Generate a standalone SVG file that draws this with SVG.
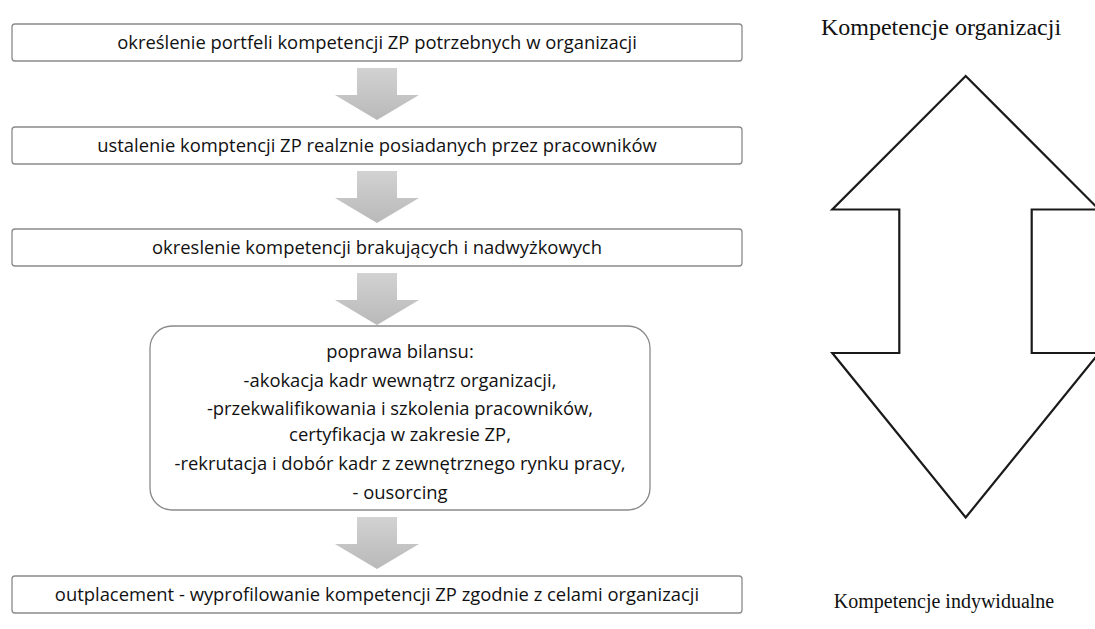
<svg xmlns="http://www.w3.org/2000/svg" width="1095" height="629" viewBox="0 0 1095 629">
  <defs>
    <linearGradient id="arrowFill" x1="0" y1="0" x2="0" y2="1">
      <stop offset="0" stop-color="#d2d2d2"/>
      <stop offset="1" stop-color="#b9b9b9"/>
    </linearGradient>
    <!-- block arrow pointing down, origin at top centre -->
    <path id="downArrow" d="M-20,0 H20 V27 H42 L0,52 L-42,27 H-20 Z"/>
  </defs>
  <style>
    .box { fill: #ffffff; stroke: #8a8a8a; stroke-width: 1.3; }
    .lbl { font-family: "Open Sans", "Liberation Sans", sans-serif; font-size: 18.4px; fill: #111111; text-anchor: middle; }
    .serif { font-family: "Liberation Serif", "DejaVu Serif", serif; fill: #111111; text-anchor: middle; }
    .flow { fill: url(#arrowFill); }
    .dbl { fill: #ffffff; stroke: #1a1a1a; stroke-width: 2.2; stroke-linejoin: miter; }
  </style>

  <rect width="1095" height="629" fill="#ffffff"/>

  <!-- flow connectors -->
  <g id="connectors">
    <use href="#downArrow" class="flow" x="377" y="68"/>
    <use href="#downArrow" class="flow" x="377" y="171"/>
    <use href="#downArrow" class="flow" x="377" y="273"/>
    <use href="#downArrow" class="flow" x="377" y="517"/>
  </g>

  <g id="step1">
    <rect class="box" x="12" y="24" width="730" height="37" rx="3"/>
    <text class="lbl" x="377" y="49">określenie portfeli kompetencji ZP potrzebnych w organizacji</text>
  </g>

  <g id="step2">
    <rect class="box" x="12" y="127" width="730" height="37" rx="3"/>
    <text class="lbl" x="377" y="152">ustalenie komptencji ZP realznie posiadanych przez pracowników</text>
  </g>

  <g id="step3">
    <rect class="box" x="12" y="229" width="730" height="37" rx="3"/>
    <text class="lbl" x="377" y="254">okreslenie kompetencji brakujących i nadwyżkowych</text>
  </g>

  <g id="step4">
    <rect class="box" x="150" y="326" width="500" height="184" rx="22"/>
    <text class="lbl" x="400" y="358">poprawa bilansu:</text>
    <text class="lbl" x="400" y="387">-akokacja kadr wewnątrz organizacji,</text>
    <text class="lbl" x="400" y="415">-przekwalifikowania i szkolenia pracowników,</text>
    <text class="lbl" x="400" y="441">certyfikacja w zakresie ZP,</text>
    <text class="lbl" x="400" y="470">-rekrutacja i dobór kadr z zewnętrznego rynku pracy,</text>
    <text class="lbl" x="400" y="499">- ousorcing</text>
  </g>

  <g id="step5">
    <rect class="box" x="12" y="576" width="730" height="37" rx="3"/>
    <text class="lbl" x="377" y="601">outplacement - wyprofilowanie kompetencji ZP zgodnie z celami organizacji</text>
  </g>

  <!-- two-way arrow between organisational and individual competences -->
  <g id="competenceAxis">
    <text class="serif" x="941" y="35" font-size="24">Kompetencje organizacji</text>
    <path class="dbl" d="M965.7,76 L1099,209.5 H1031.7 V353 H1099 L965.7,517.5 L832.3,353 H899.3 V209.5 H832.3 Z"/>
    <text class="serif" x="944" y="608" font-size="20">Kompetencje indywidualne</text>
  </g>
</svg>
